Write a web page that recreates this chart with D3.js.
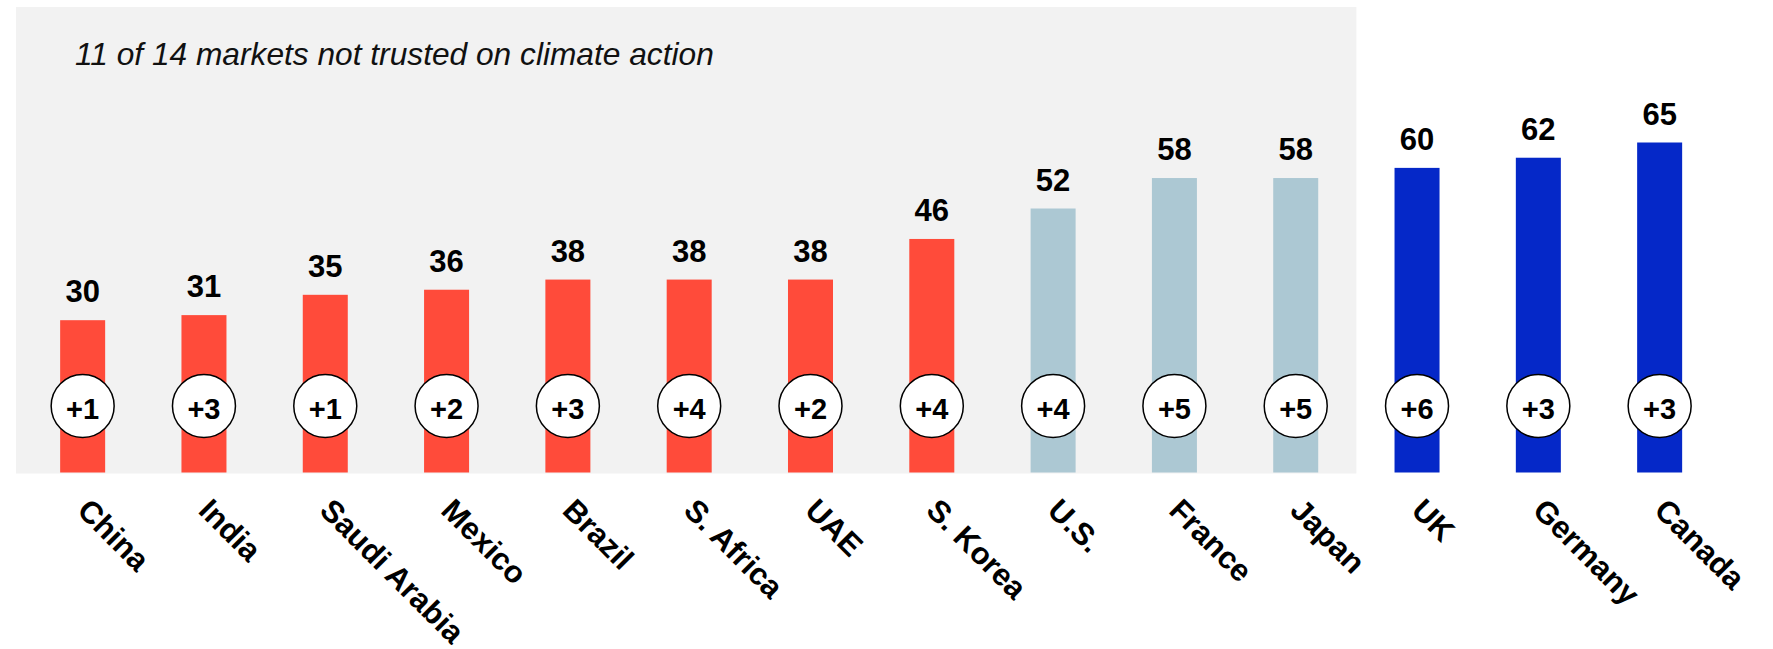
<!DOCTYPE html>
<html>
<head>
<meta charset="utf-8">
<script src="https://cdn.jsdelivr.net/npm/d3@7"></script>
<style>
  body { margin: 0; background: #fff; }
  svg { display: block; font-family: "Liberation Sans", Arial, sans-serif; }
</style>
</head>
<body>
<svg id="chart" width="1773" height="649"></svg>
<script>
// trust on climate action, by market
const markets = ["China", "India", "Saudi Arabia", "Mexico", "Brazil", "S. Africa", "UAE",
  "S. Korea", "U.S.", "France", "Japan", "UK", "Germany", "Canada"];
const trustValues = [30, 31, 35, 36, 38, 38, 38, 46, 52, 58, 58, 60, 62, 65];
const changeValues = [1, 3, 1, 2, 3, 4, 2, 4, 4, 5, 5, 6, 3, 3];
const title = "11 of 14 markets not trusted on climate action";

const svg = d3.select("#chart");

const x = d3.scaleBand()
  .domain(markets)
  .range([22, 1720.3])
  .paddingInner(0.629)
  .paddingOuter(0.3145);

const y = d3.scaleLinear()
  .domain([0, 65])
  .range([472.5, 142.5]);

// distrust < 50, neutral 50-59, trust 60+
const color = d3.scaleThreshold()
  .domain([50, 60])
  .range(["#FF4B3A", "#ACC8D3", "#0528C8"]);

const cx = d => x(d) + x.bandwidth() / 2;

// grey panel behind the markets that are not trusted
const lastNotTrusted = markets[trustValues.findIndex(v => v >= 60) - 1];
const firstTrusted = markets[trustValues.findIndex(v => v >= 60)];
svg.append("rect")
  .attr("x", 16)
  .attr("y", 7)
  .attr("width", (cx(lastNotTrusted) + cx(firstTrusted)) / 2 - 16)
  .attr("height", y(0) + 1 - 7)
  .attr("fill", "#F2F2F2");

svg.append("text")
  .attr("x", 75)
  .attr("y", 65)
  .attr("font-size", 31.7)
  .attr("font-style", "italic")
  .attr("fill", "#111")
  .text(title);

const data = markets.map((m, i) => ({ market: m, value: trustValues[i], change: changeValues[i] }));

const bar = svg.append("g")
  .selectAll(".bar")
  .data(data)
  .enter().append("g")
  .attr("class", "bar");

bar.append("rect")
  .attr("x", d => x(d.market))
  .attr("y", d => y(d.value))
  .attr("width", x.bandwidth())
  .attr("height", d => y(0) - y(d.value))
  .attr("fill", d => color(d.value));

bar.append("text")
  .attr("x", d => cx(d.market))
  .attr("y", d => y(d.value) - 18)
  .attr("text-anchor", "middle")
  .attr("font-size", 31)
  .attr("font-weight", "bold")
  .text(d => d.value);

bar.append("circle")
  .attr("cx", d => cx(d.market))
  .attr("cy", 406)
  .attr("r", 31.5)
  .attr("fill", "#fff")
  .attr("stroke", "#000")
  .attr("stroke-width", 1.5);

bar.append("text")
  .attr("x", d => cx(d.market))
  .attr("y", 419)
  .attr("text-anchor", "middle")
  .attr("font-size", 29)
  .attr("font-weight", "bold")
  .text(d => "+" + d.change);

// rotated market names
bar.append("text")
  .attr("transform", d => `translate(${cx(d.market) - 7},512) rotate(45)`)
  .attr("font-size", 31)
  .attr("font-weight", "bold")
  .text(d => d.market);
</script>
</body>
</html>
